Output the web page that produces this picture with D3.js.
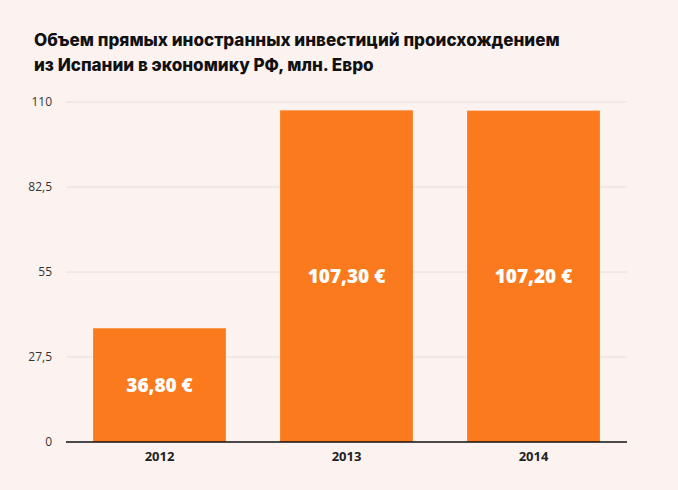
<!DOCTYPE html>
<html><head><meta charset="utf-8">
<script src="https://cdn.jsdelivr.net/npm/d3@7"></script>
<style>
html,body{margin:0;padding:0;background:#fcf3f0;}
svg{display:block;}
</style></head><body>
<svg id="c" width="678" height="490"></svg>
<script>
const categories = ["2012","2013","2014"];
const values = [36.8, 107.3, 107.2];
const labels = ["36,80 €","107,30 €","107,20 €"];
const tickValues = [0, 27.5, 55, 82.5, 110];
const tickLabels = ["0","27,5","55","82,5","110"];
const titleLines = ["Объем прямых иностранных инвестиций происхождением","из Испании в экономику РФ, млн. Евро"];

(function(){
const svg = d3.select("#c");
svg.append("rect").attr("width",678).attr("height",490).attr("fill","#fcf3f0");
const mLeft = 66, mRight = 627, mTop = 102, mBottom = 442;

const x = d3.scaleBand().domain(categories).range([mLeft,mRight]).paddingInner(0.29).paddingOuter(0.145);
const y = d3.scaleLinear().domain([0,110]).range([mBottom,mTop]);

const title = svg.append("text").attr("x",34).attr("y",46)
  .attr("font-family","Inter, 'Open Sans', sans-serif").attr("font-weight",800)
  .attr("font-size",17.1).attr("fill","#111");
titleLines.forEach((t,i)=>title.append("tspan").attr("x",34).attr("dy",i?25:0).text(t));

svg.append("g").selectAll("line").data(tickValues.filter(d=>d>0)).join("line")
  .attr("x1",mLeft).attr("x2",mRight).attr("y1",d=>y(d)).attr("y2",d=>y(d))
  .attr("stroke","#e6dedb").attr("stroke-width",1);

const yAxis = d3.axisLeft(y).tickValues(tickValues).tickFormat((d,i)=>tickLabels[i]).tickSize(0).tickPadding(14);
const ya = svg.append("g").attr("transform",`translate(${mLeft},0)`).call(yAxis);
ya.select(".domain").remove();
ya.selectAll("text").attr("font-family","'Open Sans', sans-serif").attr("font-size",12).attr("fill","#333");

svg.append("g").selectAll("rect").data(values).join("rect")
  .attr("x",(d,i)=>x(categories[i])).attr("width",x.bandwidth())
  .attr("y",d=>y(d)).attr("height",d=>y(0)-y(d)).attr("fill","#fb7a1e");

svg.append("g").selectAll("text").data(values).join("text")
  .attr("x",(d,i)=>x(categories[i])+x.bandwidth()/2)
  .attr("y",d=>(y(d)+y(0))/2)
  .attr("dy","0.35em").attr("text-anchor","middle")
  .attr("font-family","'Open Sans', sans-serif").attr("font-weight",800)
  .attr("font-size",19).attr("fill","#fff").text((d,i)=>labels[i]);

const xAxis = d3.axisBottom(x).tickSize(0).tickPadding(10);
const xa = svg.append("g").attr("transform",`translate(0,${mBottom})`).call(xAxis);
xa.select(".domain").attr("stroke","#111").attr("stroke-width",1.5).attr("d",`M${mLeft},0H${mRight}`);
xa.selectAll("text").attr("font-family","'Open Sans', sans-serif").attr("font-weight",700).attr("font-size",13).attr("fill","#222");
})();
</script>
</body></html>
